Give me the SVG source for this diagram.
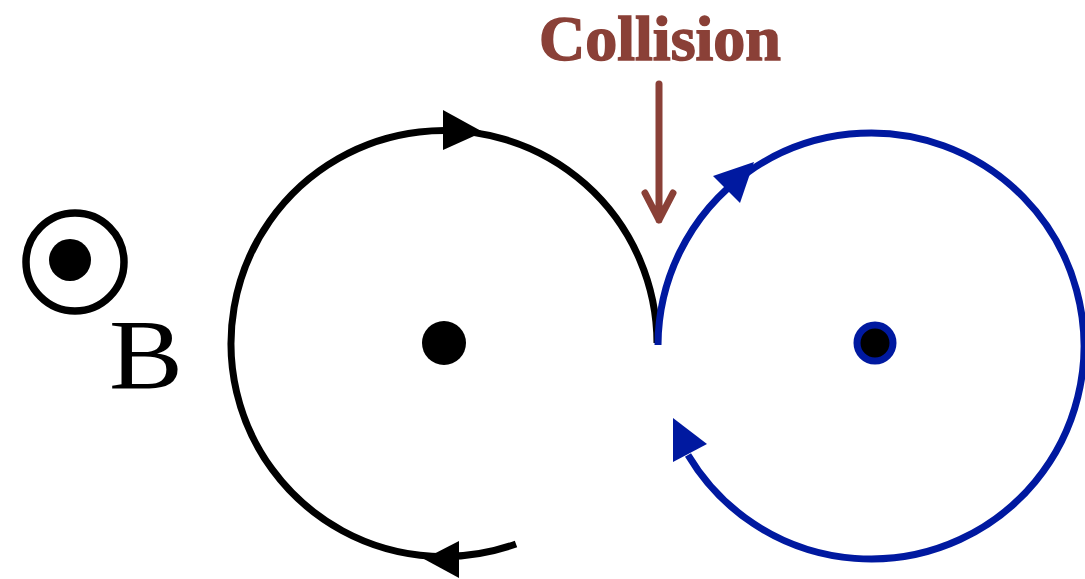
<svg xmlns="http://www.w3.org/2000/svg" width="1085" height="579" viewBox="0 0 1085 579">
<style>
.blk{fill:none;stroke:#000;stroke-width:7}
.blu{fill:none;stroke:#0019A0;stroke-width:7}
.brn{fill:none;stroke:#8A4037;stroke-width:7;stroke-linecap:round;stroke-linejoin:round}
.lbl{font-family:"Liberation Serif",serif}
</style>
<rect width="1085" height="579" fill="#fff"/>
<g id="bfield">
<circle cx="75" cy="262" r="49" fill="none" stroke="#000" stroke-width="7.5"/>
<circle cx="70" cy="260" r="21" fill="#000"/>
<text class="lbl" x="109" y="388" font-size="100" textLength="74" lengthAdjust="spacingAndGlyphs">B</text>
</g>
<g id="black-orbit">
<path class="blk" d="M 516 544 A 213 213 0 1 1 657 343"/>
<polygon points="443,110 443,150 483,132" fill="#000"/>
<polygon points="459,541 459,578 424,559" fill="#000"/>
<circle cx="444" cy="343" r="22" fill="#000"/>
</g>
<g id="blue-orbit">
<path class="blu" d="M 658 345 A 213 213 0 1 1 688 455"/>
<polygon points="754,162 713,176 740,203" fill="#0019A0"/>
<polygon points="673,418 673,462 707,444" fill="#0019A0"/>
<circle cx="875" cy="343" r="18" fill="#000" stroke="#0019A0" stroke-width="7"/>
</g>
<g id="collision">
<text class="lbl" x="660" y="60" font-size="64" font-weight="bold" fill="#8A4037" stroke="#8A4037" stroke-width="1.5" text-anchor="middle">Collision</text>
</g>
<g id="connectors">
<path class="brn" d="M 659 84 L 659 220 M 645 193 L 659 220 L 673 193"/>
</g>
</svg>
